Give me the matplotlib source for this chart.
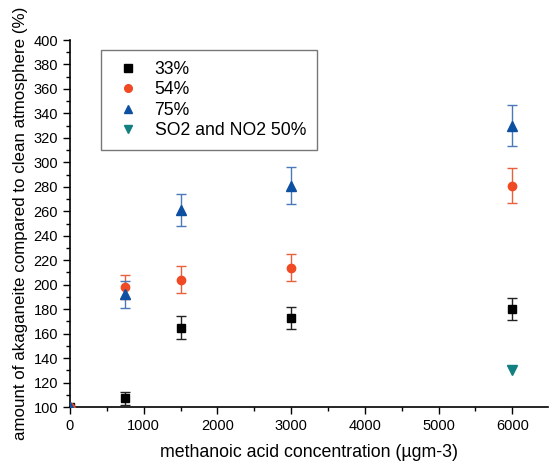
import matplotlib
matplotlib.use("Agg")
import matplotlib.pyplot as plt
from matplotlib.ticker import MultipleLocator
from matplotlib.lines import Line2D

x = [0, 750, 1500, 3000, 6000]
y33 = [100, 107, 165, 173, 180]
e33 = [0, 5, 9, 9, 9]
y54 = [100, 198, 204, 214, 281]
e54 = [0, 10, 11, 11, 14]
y75 = [100, 192, 261, 281, 330]
e75 = [0, 11, 13, 15, 17]
x_so2 = [6000]
y_so2 = [130]
labels = ['33%', '54%', '75%', 'SO2 and NO2 50%']

c33, c54, c75, cso2 = 'black', '#F04A24', '#0D4FA0', '#128080'

plt.rcParams['font.family'] = ['Liberation Sans', 'DejaVu Sans']
fig = plt.figure(figsize=(5.49, 4.68), dpi=100)
ax = fig.add_axes([0.1275, 0.1303, 0.870, 0.7842])

ax.errorbar(x, y33, yerr=e33, fmt='s', color=c33, ms=6, ecolor='#222222',
            elinewidth=1, capsize=3.5, capthick=1, zorder=3)
ax.errorbar(x, y54, yerr=e54, fmt='o', color=c54, ms=6, ecolor='#E8603C',
            elinewidth=1, capsize=3.5, capthick=1, zorder=3)
ax.errorbar(x, y75, yerr=e75, fmt='^', color=c75, ms=7, ecolor='#4A78B8',
            elinewidth=1, capsize=3.5, capthick=1, zorder=3)
ax.plot(x_so2, y_so2, 'v', color=cso2, ms=7, ls='none', zorder=3)

ax.set_xlim(0, 6480)
ax.set_ylim(100, 400)
ax.xaxis.set_major_locator(MultipleLocator(1000))
ax.xaxis.set_minor_locator(MultipleLocator(500))
ax.yaxis.set_major_locator(MultipleLocator(20))
ax.yaxis.set_minor_locator(MultipleLocator(10))
ax.tick_params(which='major', direction='out', length=5, width=1, labelsize=10.5)
ax.tick_params(which='minor', direction='out', length=3, width=1)
for s in ['top', 'right']:
    ax.spines[s].set_visible(False)
for s in ['left', 'bottom']:
    ax.spines[s].set_linewidth(1.2)

ax.set_xlabel('methanoic acid concentration (µgm-3)', fontsize=12.8, labelpad=8)
ax.set_ylabel('amount of akaganeite compared to clean atmosphere (%)', fontsize=12.2)

handles = [
    Line2D([], [], marker='s', color=c33, ls='none', ms=5.5),
    Line2D([], [], marker='o', color=c54, ls='none', ms=5.5),
    Line2D([], [], marker='^', color=c75, ls='none', ms=6),
    Line2D([], [], marker='v', color=cso2, ls='none', ms=6),
]
leg = ax.legend(handles, labels, loc='upper left', bbox_to_anchor=(0.046, 0.996), fontsize=12.7,
                frameon=True, fancybox=False, edgecolor='#555555',
                borderpad=0.6, labelspacing=0.2, handletextpad=0.55, handlelength=1.9)
leg.get_frame().set_linewidth(1)

fig.savefig('out.png', dpi=100)
